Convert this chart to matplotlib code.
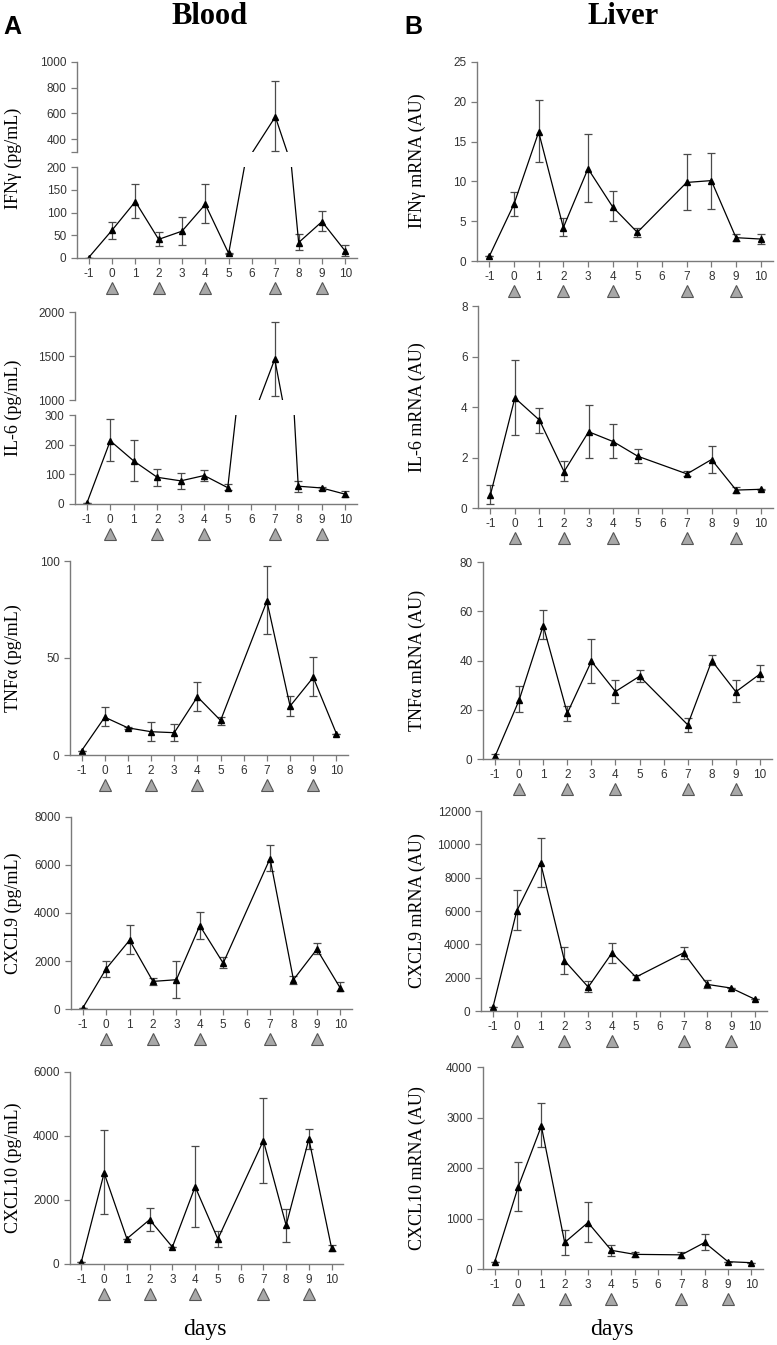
import matplotlib
matplotlib.use('Agg')
import matplotlib.pyplot as plt
import matplotlib.transforms as mtrans

W, H = 777, 1345

days = [-1, 0, 1, 2, 3, 4, 5, 7, 8, 9, 10]
dose_days = [0, 2, 4, 7, 9]
xtick_days = list(range(-1, 11))

# blood (pg/mL): mean, upper and lower end of error bar
ifng_b = [1, 61, 124, 41, 59, 118, 10, 574, 34, 80, 15]
ifng_b_hi = [1, 80, 163, 58, 91, 162, 12, 856, 52, 103, 29]
ifng_b_lo = [1, 42, 87, 26, 28, 76, 8, 308, 18, 59, 4]

il6_b = [2, 213, 145, 90, 78, 96, 55, 1464, 60, 54, 33]
il6_b_hi = [2, 285, 216, 119, 106, 115, 66, 1890, 79, 58, 44]
il6_b_lo = [2, 146, 78, 62, 51, 78, 47, 1042, 42, 48, 24]

tnf_b = [2.2, 19.5, 14, 12, 11.5, 30, 17.8, 79.3, 25.2, 40, 11]
tnf_b_hi = [2.2, 24.7, 14.5, 17, 15.8, 37.8, 19.7, 97.3, 30.6, 50.5, 11]
tnf_b_lo = [2.2, 14.7, 13.5, 7.4, 7.4, 22.8, 15.4, 62.2, 20.2, 30.6, 11]

cxcl9_b = [40, 1675, 2865, 1150, 1220, 3475, 1910, 6270, 1220, 2490, 870]
cxcl9_b_hi = [40, 2020, 3490, 1290, 2010, 4055, 2160, 6850, 1385, 2770, 1110]
cxcl9_b_lo = [40, 1330, 2310, 1010, 460, 2935, 1690, 5760, 1050, 2300, 735]

cxcl10_b = [73, 2845, 790, 1385, 530, 2415, 780, 3855, 1210, 3905, 490]
cxcl10_b_hi = [73, 4190, 790, 1740, 530, 3690, 1020, 5190, 1730, 4230, 605]
cxcl10_b_lo = [73, 1560, 790, 1030, 530, 1165, 530, 2530, 680, 3595, 415]

# liver (mRNA, AU)
ifng_l = [0.6, 7.15, 16.2, 4.2, 11.6, 6.8, 3.6, 9.87, 10.1, 2.93, 2.76]
ifng_l_hi = [0.6, 8.7, 20.2, 5.35, 16.0, 8.85, 4.1, 13.46, 13.6, 3.35, 3.35]
ifng_l_lo = [0.6, 5.7, 12.5, 3.1, 7.4, 5.0, 3.0, 6.35, 6.56, 2.55, 2.17]

il6_l = [0.5, 4.36, 3.48, 1.44, 3.02, 2.63, 2.05, 1.35, 1.92, 0.71, 0.74]
il6_l_hi = [0.9, 5.86, 3.97, 1.85, 4.09, 3.31, 2.33, 1.46, 2.47, 0.82, 0.76]
il6_l_lo = [0.15, 2.9, 2.99, 1.06, 1.98, 1.98, 1.79, 1.26, 1.40, 0.61, 0.72]

tnf_l = [1.1, 23.9, 54.2, 18.6, 39.7, 27.4, 33.6, 13.9, 39.9, 27.3, 34.5]
tnf_l_hi = [2.0, 29.5, 60.6, 21.6, 48.6, 32.1, 36.1, 16.6, 42.1, 32.2, 38.2]
tnf_l_lo = [0.1, 19.0, 48.6, 15.5, 30.8, 22.8, 31.2, 11.1, 38.3, 23.0, 31.5]

cxcl9_l = [220, 6000, 8890, 3030, 1435, 3490, 2035, 3490, 1595, 1375, 700]
cxcl9_l_hi = [220, 7235, 10405, 3865, 1775, 4105, 2190, 3865, 1855, 1375, 700]
cxcl9_l_lo = [220, 4845, 7415, 2230, 1115, 2910, 1875, 3150, 1375, 1375, 700]

cxcl10_l = [140, 1615, 2830, 525, 920, 370, 290, 280, 525, 145, 125]
cxcl10_l_hi = [140, 2120, 3280, 780, 1330, 485, 340, 345, 695, 145, 125]
cxcl10_l_lo = [140, 1140, 2410, 270, 530, 260, 240, 210, 370, 145, 125]

SANS = ['Liberation Sans', 'DejaVu Sans']
SERIF = ['Liberation Serif', 'DejaVu Serif']
AXC = '#7a7a7a'

fig = plt.figure(figsize=(W / 100, H / 100), dpi=100)


def px_axes(l, r, t, b):
    return fig.add_axes([l / W, 1 - b / H, (r - l) / W, (b - t) / H])


def style(ax, bottom=True):
    for s in ['top', 'right']:
        ax.spines[s].set_visible(False)
    ax.spines['left'].set_color(AXC)
    ax.spines['bottom'].set_color(AXC)
    ax.spines['left'].set_linewidth(1.0)
    ax.spines['bottom'].set_linewidth(1.0)
    ax.tick_params(colors=AXC, labelcolor='#333333', length=4, width=0.9,
                   labelsize=8.5)
    for lab in ax.get_xticklabels() + ax.get_yticklabels():
        lab.set_family(SANS)
    ax.set_xlim(-1.5, 10.5)
    if bottom:
        ax.set_xticks(xtick_days)
        ax.set_xticklabels([str(d) for d in xtick_days], family=SANS)
        tr = mtrans.offset_copy(ax.get_xaxis_transform(), fig=fig, x=0, y=-30, units='dots')
        ax.plot(dose_days, [0] * len(dose_days), '^', ms=9, mfc='#a8a8a8',
                mec='#555555', mew=0.8, transform=tr, clip_on=False)
    else:
        ax.spines['bottom'].set_visible(False)
        ax.set_xticks([])


def series(ax, mean, hi, lo):
    yerr = [[m - l for m, l in zip(mean, lo)], [h - m for m, h in zip(mean, hi)]]
    ax.errorbar(days, mean, yerr=yerr, fmt='-^', color='k', ms=4, lw=0.9,
                ecolor='#4a4a4a', elinewidth=0.9, capsize=3, capthick=0.9)


def panel(box, mean, hi, lo, ylim, yticks):
    ax = px_axes(*box)
    series(ax, mean, hi, lo)
    ax.set_ylim(*ylim)
    ax.set_yticks(yticks)
    ax.set_yticklabels([str(v) for v in yticks], family=SANS)
    style(ax)
    return ax


def broken(box, split, mean, hi, lo, up_lim, up_ticks, up_labels, lo_lim, lo_ticks):
    l, r, t, b = box
    ut, ub = split
    axu = px_axes(l, r, t, ut)
    axl = px_axes(l, r, ub, b)
    for ax in (axu, axl):
        series(ax, mean, hi, lo)
    axu.set_ylim(*up_lim)
    axu.set_yticks(up_ticks)
    axu.set_yticklabels(up_labels, family=SANS)
    axl.set_ylim(*lo_lim)
    axl.set_yticks(lo_ticks)
    axl.set_yticklabels([str(v) for v in lo_ticks], family=SANS)
    style(axu, bottom=False)
    style(axl)


# Blood column
broken((77, 357, 62, 258), (152, 167), ifng_b, ifng_b_hi, ifng_b_lo,
       (300, 1000), [300, 400, 600, 800, 1000], ['', '400', '600', '800', '1000'],
       (0, 200), [0, 50, 100, 150, 200])
broken((75, 357, 312, 504), (400, 415), il6_b, il6_b_hi, il6_b_lo,
       (1000, 2000), [1000, 1500, 2000], ['1000', '1500', '2000'],
       (0, 300), [0, 100, 200, 300])
panel((70, 348, 561, 755), tnf_b, tnf_b_hi, tnf_b_lo, (0, 100), [0, 50, 100])
panel((71, 352, 817, 1009), cxcl9_b, cxcl9_b_hi, cxcl9_b_lo, (0, 8000), [0, 2000, 4000, 6000, 8000])
panel((70, 343, 1072, 1264), cxcl10_b, cxcl10_b_hi, cxcl10_b_lo, (0, 6000), [0, 2000, 4000, 6000])

# Liver column
panel((477, 773, 62, 261), ifng_l, ifng_l_hi, ifng_l_lo, (0, 25), [0, 5, 10, 15, 20, 25])
panel((478, 773, 306, 508), il6_l, il6_l_hi, il6_l_lo, (0, 8), [0, 2, 4, 6, 8])
panel((483, 772, 562, 759), tnf_l, tnf_l_hi, tnf_l_lo, (0, 80), [0, 20, 40, 60, 80])
panel((481, 767, 811, 1011), cxcl9_l, cxcl9_l_hi, cxcl9_l_lo, (0, 12000),
      [0, 2000, 4000, 6000, 8000, 10000, 12000])
panel((483, 763, 1067, 1269), cxcl10_l, cxcl10_l_hi, cxcl10_l_lo, (0, 4000), [0, 1000, 2000, 3000, 4000])

# y labels
left_labels = ['IFNγ (pg/mL)', 'IL-6 (pg/mL)', 'TNFα (pg/mL)', 'CXCL9 (pg/mL)', 'CXCL10 (pg/mL)']
right_labels = ['IFNγ mRNA (AU)', 'IL-6 mRNA (AU)', 'TNFα mRNA (AU)', 'CXCL9 mRNA (AU)', 'CXCL10 mRNA (AU)']
left_y = [158, 408, 658, 913, 1168]
right_y = [161, 407, 660, 911, 1168]
for lab, yc in zip(left_labels, left_y):
    fig.text(13 / W, 1 - yc / H, lab, rotation=90, ha='center', va='center',
             family=SERIF, fontsize=13)
for lab, yc in zip(right_labels, right_y):
    fig.text(417 / W, 1 - yc / H, lab, rotation=90, ha='center', va='center',
             family=SERIF, fontsize=13)

fig.text(210 / W, 1 - 16 / H, 'Blood', ha='center', va='center', family=SERIF,
         fontsize=22, weight='bold')
fig.text(623 / W, 1 - 16 / H, 'Liver', ha='center', va='center', family=SERIF,
         fontsize=22, weight='bold')
fig.text(12 / W, 1 - 27 / H, 'A', ha='center', va='center', family=SANS,
         fontsize=18, weight='bold')
fig.text(413 / W, 1 - 27 / H, 'B', ha='center', va='center', family=SANS,
         fontsize=18, weight='bold')
fig.text(205 / W, 1 - 1330 / H, 'days', ha='center', va='center', family=SERIF, fontsize=17)
fig.text(612 / W, 1 - 1330 / H, 'days', ha='center', va='center', family=SERIF, fontsize=17)

fig.savefig('out.png', dpi=100)
